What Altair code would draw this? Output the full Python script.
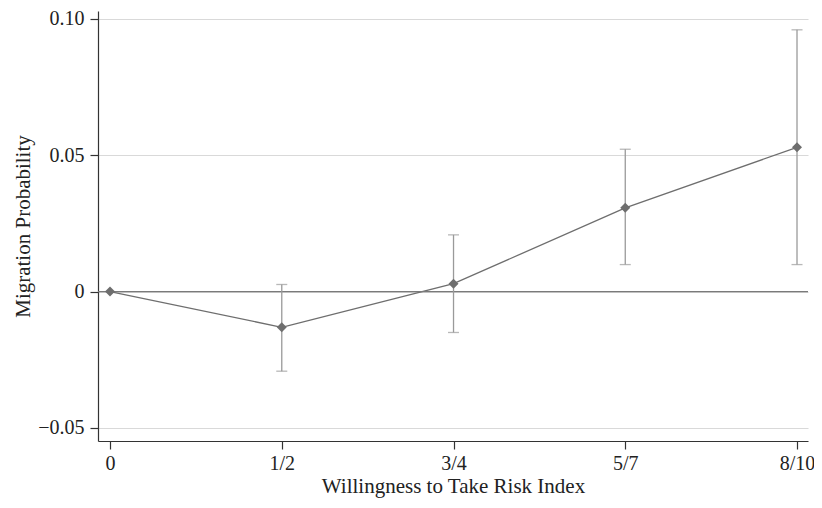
import altair as alt
import pandas as pd

categories = ["0", "1/2", "3/4", "5/7", "8/10"]
positions = [0, 1, 2, 3, 4]
estimates = [0.0, -0.0131, 0.0029, 0.0307, 0.0529]
ci_low = [0.0, -0.0292, -0.0150, 0.0099, 0.0099]
ci_high = [0.0, 0.0026, 0.0208, 0.0522, 0.0960]

df = pd.DataFrame({"pos": positions, "cat": categories, "est": estimates,
                   "lo": ci_low, "hi": ci_high})
ci_df = df[df["pos"] > 0]

FONT = "Liberation Serif"
xscale = alt.Scale(domain=[-0.07, 4.064], nice=False, zero=False)
yscale = alt.Scale(domain=[-0.0548, 0.1029], nice=False, zero=False)

label_expr = "['0','1/2','3/4','5/7','8/10'][datum.value]"

base = alt.Chart(df)

x_enc = alt.X("pos:Q", scale=xscale,
              axis=alt.Axis(values=positions, labelExpr=label_expr,
                            title="Willingness to Take Risk Index",
                            grid=False, tickSize=8, labelPadding=4,
                            titlePadding=2))
y_enc = alt.Y("est:Q", scale=yscale,
              axis=alt.Axis(values=[-0.05, 0, 0.05, 0.10],
                            labelExpr="datum.value == 0 ? '0' : (datum.value < 0 ? '\u22120.05' : format(datum.value, '.2f'))",
                            title="Migration Probability", grid=True,
                            gridColor="#d9d9d9", tickSize=8, labelPadding=6,
                            titlePadding=4))

zero = alt.Chart(pd.DataFrame({"z": [0]})).mark_rule(color="#7a7a7a", strokeWidth=1.3).encode(
    y=alt.Y("z:Q", scale=yscale))

err = alt.Chart(ci_df).mark_rule(color="#9a9a9a", strokeWidth=1.3).encode(
    x=alt.X("pos:Q", scale=xscale), y=alt.Y("lo:Q", scale=yscale), y2="hi:Q")
cap_lo = alt.Chart(ci_df).mark_tick(color="#9a9a9a", orient="horizontal", size=11, thickness=1.3).encode(
    x=alt.X("pos:Q", scale=xscale), y=alt.Y("lo:Q", scale=yscale))
cap_hi = alt.Chart(ci_df).mark_tick(color="#9a9a9a", orient="horizontal", size=11, thickness=1.3).encode(
    x=alt.X("pos:Q", scale=xscale), y=alt.Y("hi:Q", scale=yscale))

line = base.mark_line(color="#6e6e6e", strokeWidth=1.3).encode(x=x_enc, y=y_enc)
pts = base.mark_point(shape="diamond", filled=True, size=100, color="#6e6e6e", opacity=1).encode(
    x=alt.X("pos:Q", scale=xscale), y=alt.Y("est:Q", scale=yscale))

chart = alt.layer(line, zero, err, cap_lo, cap_hi, pts).properties(
    width=710, height=430,
    autosize=alt.AutoSizeParams(type="none"),
    padding={"left": 90, "top": 3, "right": 6, "bottom": 59},
    background="white",
).configure_view(stroke=None).configure_axis(
    labelFont=FONT, titleFont=FONT, labelFontSize=20, titleFontSize=21,
    labelColor="#222", titleColor="#222", titleFontWeight="normal",
    domainColor="#333", tickColor="#333", domainWidth=1.2, tickWidth=1.2,
)

chart.save("out.html", embed_options={"renderer": "svg", "actions": False})
